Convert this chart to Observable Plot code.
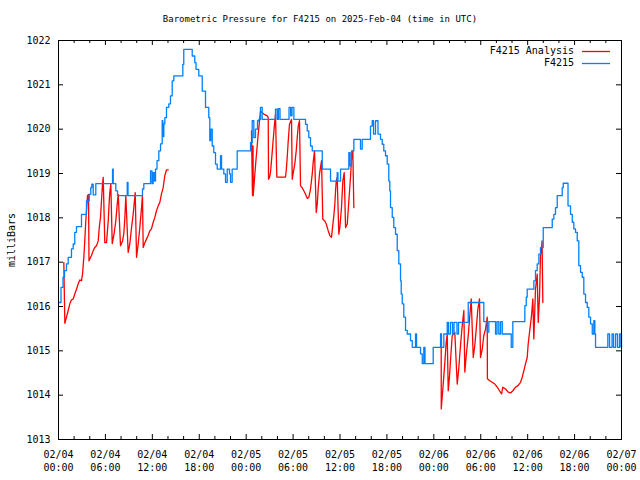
<!DOCTYPE html>
<html><head><meta charset="utf-8">
<script src="https://cdn.jsdelivr.net/npm/d3@7"></script>
<script src="https://cdn.jsdelivr.net/npm/@observablehq/plot@0.6"></script>
<style>
body{margin:0;background:#fff;}
#wrap{position:relative;width:640px;height:480px;font-family:"DejaVu Sans Mono",monospace;font-size:10px;color:#000;background:#fff;}
#chart{position:absolute;left:0;top:0;}
.txt{position:absolute;white-space:pre;line-height:12px;}
#title{left:0;width:640px;top:13px;text-align:center;font-size:9px;}
#ylabel{left:12px;top:240px;transform:translate(-50%,-50%) rotate(-90deg);}
.legt{right:66px;text-align:right;}
#legsvg{position:absolute;left:0;top:0;}
</style></head><body>
<div id="wrap">
<div id="chart"></div>
<div class="txt" id="title">Barometric Pressure for F4215 on 2025-Feb-04 (time in UTC)</div>
<div class="txt" id="ylabel">milliBars</div>
<div class="txt legt" style="top:45px">F4215 Analysis</div>
<div class="txt legt" style="top:57px">F4215</div>
<svg id="legsvg" width="640" height="80">
  <line x1="582" x2="610" y1="51.5" y2="51.5" stroke="#ff0000" stroke-width="1.3"/>
  <line x1="582" x2="610" y1="63.5" y2="63.5" stroke="#0080ff" stroke-width="1.3"/>
</svg>
</div>
<script>
// hours since 2025-02-04 00:00 UTC
const startUTC = Date.UTC(2025, 1, 4);
const xMajorHours = [0,6,12,18,24,30,36,42,48,54,60,66,72];
const xMinorHours = [2,4,8,10,14,16,20,22,26,28,32,34,38,40,44,46,50,52,56,58,62,64,68,70];
const yTicks = [1013,1014,1015,1016,1017,1018,1019,1020,1021,1022];
const seriesNames = ["F4215 Analysis","F4215"];

const blueHours = [0,0.32,0.58,0.77,1.02,1.24,1.66,1.88,2.08,2.30,2.94,3.58,3.93,4.13,4.26,4.44,4.77,6.91,7.00,7.33,7.55,8.79,8.89,10.74,10.91,11.77,11.96,12.11,12.28,12.41,12.60,12.83,13.05,13.26,13.34,13.47,13.60,13.81,14.10,14.32,14.54,14.75,15.90,16.02,17.10,17.43,17.59,17.94,18.38,18.80,19.22,19.35,19.48,19.66,19.86,20.08,20.30,20.72,20.85,21.14,21.36,21.58,21.87,22.00,22.21,22.85,24.56,24.77,24.98,25.19,25.45,25.62,25.83,26.05,27.75,27.97,28.13,28.33,29.48,29.69,29.86,30.10,31.59,31.81,32.01,32.23,32.45,33.73,34.79,35.64,35.74,36.07,37.13,37.28,37.47,37.77,38.62,38.84,39.90,40.12,40.29,40.54,40.86,41.18,41.40,41.60,41.82,42.04,42.24,42.37,42.46,42.68,42.88,43.10,43.32,43.52,43.74,43.83,43.96,44.16,44.38,44.60,45.02,45.24,45.66,45.79,46.30,46.52,46.72,46.87,47.92,48.86,48.98,49.28,49.71,49.88,50.13,50.39,50.58,50.96,51.16,52.40,54.39,54.83,55.03,55.89,56.08,56.31,56.53,56.75,57.90,58.10,59.64,59.82,59.94,60.79,61.00,61.22,61.43,61.64,61.99,63.14,63.35,63.56,63.78,64.42,64.55,65.16,65.48,65.70,65.90,66.12,66.34,66.54,66.76,66.98,67.18,67.40,67.62,67.82,68.04,68.26,68.46,68.59,68.68,70.25,70.47,70.79,70.98,71.24,71.49,71.75,71.94,72.0];
const blueValues = [1016.09,1016.43,1016.66,1016.81,1016.96,1017.11,1017.30,1017.41,1017.67,1017.80,1018.08,1018.38,1018.53,1018.68,1018.76,1018.52,1018.77,1019.10,1018.77,1018.61,1018.50,1018.80,1018.50,1018.65,1018.77,1019.06,1018.77,1019.02,1018.83,1019.10,1019.29,1019.51,1019.67,1020.19,1019.83,1020.12,1020.26,1020.49,1020.57,1020.75,1021.09,1021.20,1021.46,1021.80,1021.65,1021.50,1021.35,1021.20,1020.86,1020.49,1020.26,1019.74,1020.00,1019.62,1019.47,1019.21,1019.10,1019.40,1019.10,1018.99,1018.80,1019.10,1018.99,1018.80,1019.10,1019.51,1019.70,1020.19,1019.81,1020.00,1020.19,1020.22,1020.49,1020.22,1020.45,1020.22,1020.46,1020.22,1020.49,1020.30,1020.49,1020.22,1020.11,1019.96,1019.81,1019.62,1019.51,1019.10,1018.83,1019.02,1018.83,1019.10,1019.47,1019.17,1019.51,1019.77,1019.55,1019.77,1020.07,1020.19,1019.89,1020.19,1019.89,1019.77,1019.66,1019.51,1019.40,1019.21,1018.83,1018.61,1018.23,1018.01,1017.78,1017.63,1017.26,1016.96,1016.58,1016.28,1016.06,1015.76,1015.46,1015.38,1015.23,1015.08,1015.38,1015.08,1014.93,1014.71,1015.08,1014.71,1015.08,1015.38,1015.08,1015.38,1015.64,1015.38,1015.64,1015.38,1015.64,1015.38,1015.64,1016.09,1015.66,1015.42,1015.66,1015.38,1015.66,1015.38,1015.66,1015.38,1015.08,1015.66,1016.02,1016.21,1016.39,1016.58,1016.81,1016.96,1017.18,1017.33,1017.78,1017.97,1018.08,1018.23,1018.50,1018.68,1018.78,1018.27,1018.08,1017.90,1017.75,1017.67,1017.48,1016.92,1016.77,1016.66,1016.28,1016.09,1015.98,1015.76,1015.61,1015.38,1015.68,1015.38,1015.08,1015.38,1015.08,1015.38,1015.08,1015.38,1015.08,1015.38,1015.08,1015.38];

const redSeg1Hours = [0.68,0.81,1.02,1.24,1.45,1.66,1.88,2.08,2.30,2.52,2.72,2.94,3.07,3.24,3.36,3.49,3.71,3.84,3.90,4.00,4.22,4.44,4.64,4.86,5.08,5.21,5.37,5.63,5.72,5.92,6.14,6.36,6.48,6.56,6.69,6.87,7.10,7.33,7.51,7.64,7.93,8.19,8.35,8.48,8.61,8.91,9.12,9.34,9.55,9.81,9.98,10.19,10.40,10.62,10.74,10.83,11.04,11.25,11.47,11.68,11.89,12.11,12.32,12.53,12.75,12.96,13.17,13.39,13.59,13.81,14.03];
const redSeg1Values = [1016.99,1015.62,1015.76,1015.91,1016.06,1016.15,1016.17,1016.28,1016.39,1016.51,1016.60,1016.58,1016.73,1017.11,1017.48,1017.93,1018.50,1018.53,1017.03,1017.07,1017.15,1017.26,1017.33,1017.37,1017.48,1017.78,1018.01,1018.77,1018.91,1017.44,1017.44,1017.93,1018.35,1018.57,1018.76,1017.42,1017.63,1017.93,1018.31,1018.53,1017.37,1017.48,1017.64,1017.98,1018.50,1017.22,1017.41,1017.78,1018.08,1018.57,1017.11,1017.41,1017.78,1018.23,1018.50,1017.33,1017.44,1017.52,1017.60,1017.71,1017.75,1017.90,1018.01,1018.16,1018.27,1018.35,1018.54,1018.68,1018.95,1019.08,1019.08];
const redSeg2Hours = [24.68,24.81,24.88,24.90,25.11,25.28,25.41,25.54,25.71,25.83,26.05,26.26,26.69,26.82,26.86,26.98,27.11,27.24,27.41,27.59,27.75,27.92,29.03,29.12,29.25,29.38,29.54,29.80,29.89,30.02,30.22,30.40,30.53,30.66,30.82,30.95,31.17,31.37,31.59,31.81,32.01,32.23,32.45,32.57,32.74,32.96,33.09,33.21,33.38,33.64,33.80,34.06,34.24,34.49,34.70,34.91,35.21,35.34,35.43,35.52,35.64,35.85,36.00,36.19,36.36,36.54,36.71,36.93,37.13,37.34,37.47,37.64,37.77];
const redSeg2Values = [1019.96,1018.50,1019.62,1018.50,1018.99,1019.36,1019.62,1019.89,1020.19,1020.41,1020.37,1020.34,1020.30,1020.26,1018.87,1018.91,1019.02,1019.29,1019.66,1020.04,1020.34,1018.92,1018.92,1019.06,1019.36,1019.74,1020.11,1020.22,1018.87,1019.02,1019.21,1019.51,1019.81,1020.07,1020.19,1018.72,1018.68,1018.61,1018.53,1018.44,1018.46,1018.65,1018.99,1019.25,1019.51,1018.12,1018.31,1018.65,1018.99,1019.29,1017.97,1017.93,1017.86,1017.71,1017.60,1017.56,1018.05,1018.31,1018.61,1018.83,1018.91,1017.63,1017.82,1018.23,1018.83,1019.02,1017.78,1017.86,1018.38,1018.91,1019.32,1019.51,1018.23];
const redSeg3Hours = [48.94,48.95,49.15,49.28,49.41,49.58,49.71,49.84,50.01,50.17,50.35,50.68,50.99,51.19,51.41,51.63,51.84,51.96,52.14,52.40,52.60,52.78,53.04,53.24,53.42,53.63,53.84,53.97,54.19,54.39,54.61,54.83,54.85,55.12,55.46,55.80,56.11,56.40,56.66,56.82,57.17,57.51,57.81,58.10,58.45,58.79,59.09,59.30,59.51,59.73,59.94,60.07,60.24,60.49,60.66,60.79,61.00,61.22,61.35,61.52,61.64,61.77,61.84,61.94];
const redSeg3Values = [1015.38,1013.69,1014.14,1014.44,1014.74,1015.19,1015.38,1014.10,1014.44,1014.89,1015.34,1015.42,1014.25,1014.60,1015.12,1015.57,1015.91,1014.52,1014.89,1015.34,1015.79,1016.17,1014.85,1015.12,1015.49,1015.94,1016.17,1014.85,1015.04,1015.34,1015.49,1015.76,1014.37,1014.33,1014.29,1014.25,1014.18,1014.10,1014.03,1014.18,1014.14,1014.07,1014.05,1014.10,1014.18,1014.22,1014.29,1014.40,1014.55,1014.71,1014.85,1015.16,1015.42,1015.79,1016.17,1015.27,1016.39,1016.73,1015.64,1016.24,1017.15,1017.30,1017.48,1016.09];

const W = 640, H = 480, mL = 58, mR = 19, mT = 40, mB = 41;
const frameW = W - mL - mR, frameH = H - mT - mB;
const toDate = h => new Date(startUTC + h * 3600000);
const pad = n => String(n).padStart(2, "0");
const fmt = d => `${pad(d.getUTCMonth() + 1)}/${pad(d.getUTCDate())}\n${pad(d.getUTCHours())}:${pad(d.getUTCMinutes())}`;

const blue = blueHours.map((h, i) => ({t: toDate(h), v: blueValues[i]}));
const red = [[redSeg1Hours, redSeg1Values], [redSeg2Hours, redSeg2Values], [redSeg3Hours, redSeg3Values]]
  .flatMap(([hs, vs], k) => hs.map((h, i) => ({t: toDate(h), v: vs[i], seg: k})));
const majors = xMajorHours.map(toDate);
const minors = xMinorHours.map(toDate);

const plot = Plot.plot({
  width: W, height: H,
  marginLeft: mL, marginRight: mR, marginTop: mT, marginBottom: mB,
  style: {fontFamily: "DejaVu Sans Mono, monospace", fontSize: "10px", background: "#fff", color: "#000", overflow: "visible"},
  x: {type: "utc", domain: [toDate(0), toDate(72)]},
  y: {domain: [1013, 1022]},
  marks: [
    Plot.line(red, {x: "t", y: "v", z: "seg", stroke: "#ff0000", strokeWidth: 1.3}),
    Plot.line(blue, {x: "t", y: "v", stroke: "#0080ff", strokeWidth: 1.3, curve: "step-after"}),
    Plot.frame({stroke: "#000"}),
    Plot.tickX(majors, {x: d => d, insetTop: frameH - 5, stroke: "#000"}),
    Plot.tickX(majors, {x: d => d, insetBottom: frameH - 5, stroke: "#000"}),
    Plot.tickX(minors, {x: d => d, insetTop: frameH - 3, stroke: "#000"}),
    Plot.tickX(minors, {x: d => d, insetBottom: frameH - 3, stroke: "#000"}),
    Plot.tickY(yTicks, {y: d => d, insetRight: frameW - 5, stroke: "#000"}),
    Plot.tickY(yTicks, {y: d => d, insetLeft: frameW - 5, stroke: "#000"}),
    Plot.axisX(majors, {tickSize: 0, tickPadding: 9, tickFormat: fmt, lineHeight: 1.3, label: null, fill: "#000"}),
    Plot.axisY(yTicks, {tickSize: 0, tickPadding: 8, tickFormat: d => String(d), label: null, fill: "#000"})
  ]
});
document.getElementById("chart").appendChild(plot);
</script>
</body></html>
